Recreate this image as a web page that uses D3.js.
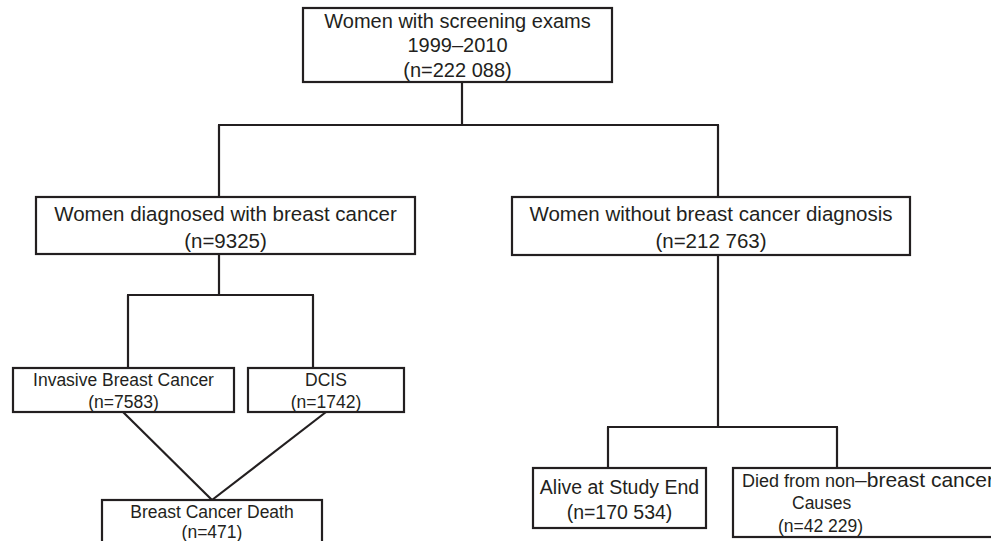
<!DOCTYPE html>
<html>
<head>
<meta charset="utf-8">
<script src="https://cdn.jsdelivr.net/npm/d3@7"></script>
<style>
  body { margin: 0; background: #fff; }
  svg { display: block; }
  text { font-family: "Liberation Sans", Arial, sans-serif; fill: #231f20; }
</style>
</head>
<body>
<svg width="991" height="541"></svg>
<script>
// flowchart content
const nodeIds = ['all', 'bc', 'nobc', 'inv', 'dcis', 'death', 'alive', 'other'];
const nodeTitles = [
    ['Women with screening exams', '1999\u20132010'],
    ['Women diagnosed with breast cancer'],
    ['Women without breast cancer diagnosis'],
    ['Invasive Breast Cancer'],
    ['DCIS'],
    ['Breast Cancer Death'],
    ['Alive at Study End'],
    ['Died from non', 'Causes']
];
const nodeCounts = ['222 088', '9325', '212 763', '7583', '1742', '471', '170 534', '42 229'];

// elbow links (parent -> children) and straight links (source -> target)
const elbowLinks = [['all', ['bc', 'nobc']], ['bc', ['inv', 'dcis']], ['nobc', ['alive', 'other']]];
const straightLinks = [['inv', 'death'], ['dcis', 'death']];

// layout: box x0, x1, y0, y1, font size, line centres
const layout = {
    all:   { x0: 303, x1: 612, y0: 8,   y1: 82,  fs: 20,   lines: [21, 45, 70], port: 462 },
    bc:    { x0: 36,  x1: 415, y0: 197, y1: 254, fs: 20.5, lines: [214, 241], port: 219 },
    nobc:  { x0: 512, x1: 910, y0: 197, y1: 255, fs: 20.5, lines: [214, 241], port: 718 },
    inv:   { x0: 13,  x1: 234, y0: 368, y1: 412, fs: 17.5, lines: [380, 402], port: 128, out: 123 },
    dcis:  { x0: 248, x1: 404, y0: 368, y1: 412, fs: 17.5, lines: [380, 402], port: 313, out: 326 },
    death: { x0: 102, x1: 322, y0: 500, y1: 562, fs: 17.5, lines: [512, 532], port: 212 },
    alive: { x0: 533, x1: 706, y0: 468, y1: 528, fs: 19.5, lines: [487, 512], port: 608 },
    other: { x0: 733, x1: 1005, y0: 468, y1: 537, fs: 20, lines: [481, 503, 526], port: 837 }
};
const barY = { all: 125, bc: 295, nobc: 427 };

const svg = d3.select('svg');
const ink = '#231f20';

const lineGen = d3.line();

// elbow connectors
elbowLinks.forEach(([p, kids]) => {
    const a = layout[p];
    const yb = barY[p];
    const xs = kids.map(k => layout[k].port);
    svg.append('path')
        .attr('d', lineGen([[a.port, a.y1], [a.port, yb]]))
        .attr('stroke', ink).attr('stroke-width', 2.2).attr('fill', 'none');
    svg.append('path')
        .attr('d', lineGen([[d3.min(xs) - 1, yb], [d3.max(xs) + 1, yb]]))
        .attr('stroke', ink).attr('stroke-width', 2.2).attr('fill', 'none');
    kids.forEach(k => {
        const b = layout[k];
        svg.append('path')
            .attr('d', lineGen([[b.port, yb], [b.port, b.y0]]))
            .attr('stroke', ink).attr('stroke-width', 2.2).attr('fill', 'none');
    });
});

// diagonal connectors
straightLinks.forEach(([s, t]) => {
    const a = layout[s], b = layout[t];
    svg.append('path')
        .attr('d', lineGen([[a.out, a.y1], [b.port, b.y0]]))
        .attr('stroke', ink).attr('stroke-width', 2.2).attr('fill', 'none');
});

// boxes
const nodes = nodeIds.map((id, i) => ({ id, title: nodeTitles[i], n: nodeCounts[i], ...layout[id] }));

svg.selectAll('rect.box')
    .data(nodes)
    .join('rect')
    .attr('class', 'box')
    .attr('x', d => d.x0)
    .attr('y', d => d.y0)
    .attr('width', d => d.x1 - d.x0)
    .attr('height', d => d.y1 - d.y0)
    .attr('fill', '#fff')
    .attr('stroke', ink)
    .attr('stroke-width', 2.2);

// labels
nodes.filter(d => d.id !== 'other').forEach(d => {
    const cx = (d.x0 + d.x1) / 2;
    const lines = [...d.title, `(n=${d.n})`];
    lines.forEach((t, i) => {
        svg.append('text')
            .attr('x', cx)
            .attr('y', d.lines[i])
            .attr('dy', '0.35em')
            .attr('text-anchor', 'middle')
            .attr('font-size', d.fs)
            .text(t);
    });
});

// the last box has mixed sizes and left-ish placement
const o = nodes.find(d => d.id === 'other');
const first = svg.append('text')
    .attr('x', o.x0 + 9)
    .attr('y', o.lines[0])
    .attr('dy', '0.35em');
first.append('tspan').attr('font-size', 18).text(o.title[0]);
first.append('tspan').attr('font-size', 21).text('\u2013breast cancer');
svg.append('text')
    .attr('x', o.x0 + 59)
    .attr('y', o.lines[1])
    .attr('dy', '0.35em')
    .attr('font-size', 17.5)
    .text(o.title[1]);
svg.append('text')
    .attr('x', o.x0 + 45)
    .attr('y', o.lines[2])
    .attr('dy', '0.35em')
    .attr('font-size', 17.5)
    .text(`(n=${o.n})`);
</script>
</body>
</html>
